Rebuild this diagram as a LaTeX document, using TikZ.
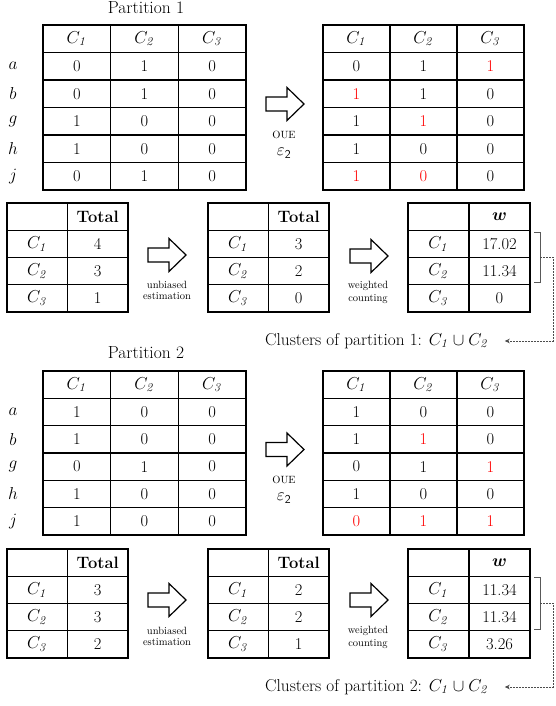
\documentclass[tikz,border=0pt]{standalone}
\usepackage{bm}
\usetikzlibrary{arrows.meta}

% red entries flipped by the perturbation
\newcommand{\rd}[1]{\textcolor{red}{#1}}
% cluster label with italic index
\newcommand{\Cs}[1]{$C_{\mathit{#1}}$}

% grid of cells: name, x0, y0, column width, row height, rows
\newcommand{\tabgrid}[6]{%
  \foreach \row [count=\i from 0] in {#6} {
    \foreach \val [count=\j from 0] in \row {
      \node[cell, minimum width=#4pt, minimum height=#5pt]
        (#1-\i-\j) at ({#2+(\j+0.5)*#4},{#3+(\i+0.5)*#5}) {\val};
    }
  }%
}

\begin{document}
\begin{tikzpicture}[x=1pt,y=-1pt,
  cell/.style={draw, line width=1.1pt, inner sep=0pt, font=\fontsize{16.5}{19}\selectfont},
  title/.style={font=\fontsize{17.5}{20}\selectfont},
  rowlab/.style={font=\fontsize{16.5}{19}\selectfont},
  small/.style={font=\fontsize{10.5}{12.5}\selectfont, align=center, inner sep=0pt},
  eps/.style={font=\fontsize{18}{20}\selectfont, inner sep=0pt},
  clus/.style={font=\fontsize{17.2}{20}\selectfont, anchor=west, inner sep=2pt},
  brace/.style={draw=black!65, line width=0.7pt},
  link/.style={draw=black!70, line width=0.6pt, dash pattern=on 2pt off 1pt,
    -{Stealth[length=5pt,width=4.5pt]}},
  pics/blockarrow/.style={code={
    \draw[line width=1.2pt, line join=miter]
      (0,-7) -- (21,-7) -- (21,-16.5) -- (38,0) -- (21,16.5) -- (21,7) -- (0,7) -- cycle;}}
]
\useasboundingbox (0,0) rectangle (555,706);

% ---------------- Partition 1 ----------------
\node[title] (title1) at (146,8) {Partition 1};

\tabgrid{pa}{43}{25}{67.67}{27.5}{{\Cs1,\Cs2,\Cs3},{0,1,0},{0,1,0},{1,0,0},{1,0,0},{0,1,0}}
\foreach \l [count=\k] in {a,b,g,h,j}
  \node[rowlab] (pa-lab-\k) at (13,{25+(\k+0.5)*27.5}) {$\l$};

\tabgrid{pb}{323}{25}{67}{27.5}{{\Cs1,\Cs2,\Cs3},{0,1,\rd1},{\rd1,1,0},{1,\rd1,0},{1,0,0},{\rd1,\rd0,0}}

\pic (arrA) at (266,104) {blockarrow};
\node[small] (oueA) at (284,135) {OUE};
\node[eps] (epsA) at (284,153) {$\varepsilon_{\mathsf{2}}$};

\tabgrid{sa}{7}{203}{60.5}{27.25}{{{},\textbf{Total}},{\Cs1,4},{\Cs2,3},{\Cs3,1}}
\tabgrid{sb}{208}{203}{60.5}{27.25}{{{},\textbf{Total}},{\Cs1,3},{\Cs2,2},{\Cs3,0}}
\tabgrid{sc}{408}{203}{61}{27.25}{{{},$\bm{w}$},{\Cs1,17.02},{\Cs2,11.34},{\Cs3,0}}

\pic (arrB) at (148,255) {blockarrow};
\node[small] (ubA) at (167,290.5) {unbiased\\[-1pt]estimation};
\pic (arrC) at (350,256) {blockarrow};
\node[small] (wcA) at (368,292.5) {weighted\\[0pt]counting};

\draw[brace] (534,232) -- (540,232) -- (540,282) -- (534,282);
\coordinate (brA) at (540,257);
\node[clus] (clA) at (263,341) {Clusters of partition 1: $C_{\mathit{1}}\cup C_{\mathit{2}}$};
\draw[link] (brA) -- (553,257) |- ([xshift=14pt]clA.east);

% ---------------- Partition 2 ----------------
\node[title] (title2) at (146,353) {Partition 2};

\tabgrid{pc}{43}{371}{67.67}{27.33}{{\Cs1,\Cs2,\Cs3},{1,0,0},{1,0,0},{0,1,0},{1,0,0},{1,0,0}}
\foreach \l [count=\k] in {a,b,g,h,j}
  \node[rowlab] (pc-lab-\k) at (13,{371+(\k+0.5)*27.33}) {$\l$};

\tabgrid{pd}{323}{371}{67}{27.33}{{\Cs1,\Cs2,\Cs3},{1,0,0},{1,\rd1,0},{0,1,\rd1},{1,0,0},{\rd0,\rd1,\rd1}}

\pic (arrD) at (266,449.5) {blockarrow};
\node[small] (oueB) at (284,480) {OUE};
\node[eps] (epsB) at (284,498) {$\varepsilon_{\mathsf{2}}$};

\tabgrid{sd}{7}{549}{60.5}{27.25}{{{},\textbf{Total}},{\Cs1,3},{\Cs2,3},{\Cs3,2}}
\tabgrid{se}{208}{549}{60.5}{27.25}{{{},\textbf{Total}},{\Cs1,2},{\Cs2,2},{\Cs3,1}}
\tabgrid{sf}{408}{549}{61}{27.25}{{{},$\bm{w}$},{\Cs1,11.34},{\Cs2,11.34},{\Cs3,3.26}}

\pic (arrE) at (148,600) {blockarrow};
\node[small] (ubB) at (167,636.5) {unbiased\\[-1pt]estimation};
\pic (arrF) at (350,600) {blockarrow};
\node[small] (wcB) at (368,637.5) {weighted\\[0pt]counting};

\draw[brace] (534,577) -- (540,577) -- (540,629) -- (534,629);
\coordinate (brB) at (540,603);
\node[clus] (clB) at (263,687) {Clusters of partition 2: $C_{\mathit{1}}\cup C_{\mathit{2}}$};
\draw[link] (brB) -- (553,603) |- ([xshift=14pt]clB.east);

\end{tikzpicture}
\end{document}
